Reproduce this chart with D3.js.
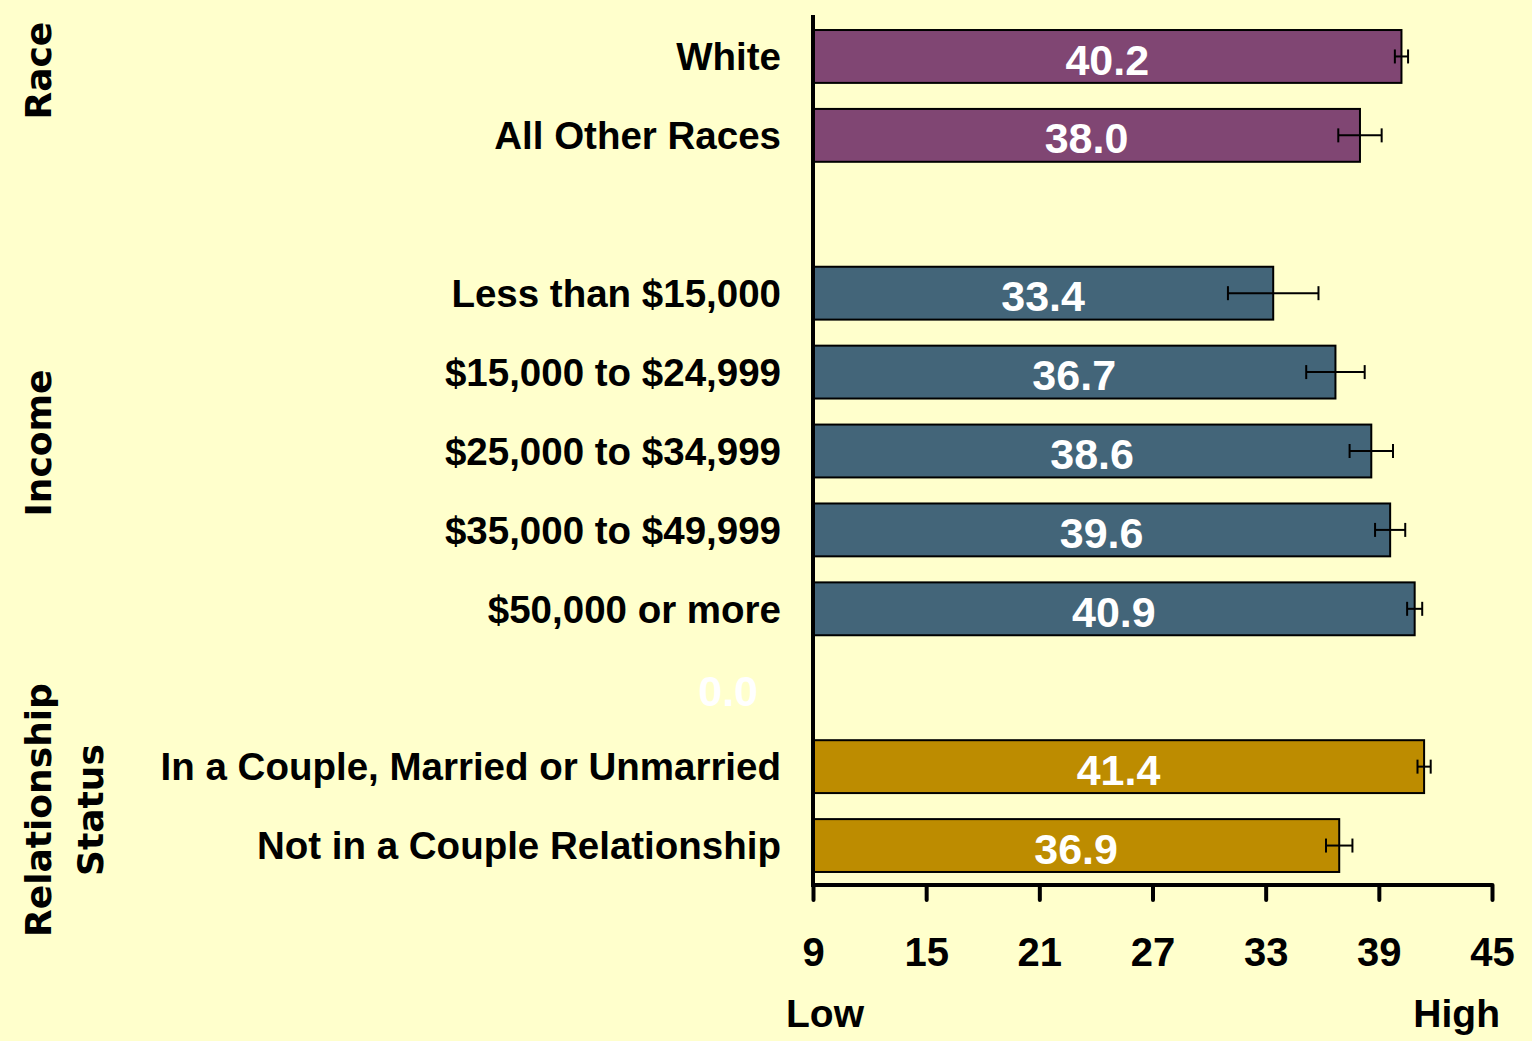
<!DOCTYPE html>
<html>
<head>
<meta charset="utf-8">
<script src="https://cdn.jsdelivr.net/npm/d3@7"></script>
<style>
  body { margin: 0; background: #FFFFCC; }
  svg { display: block; }
  text { font-family: "Liberation Sans", Arial, sans-serif; font-weight: bold; }
</style>
</head>
<body>
<div id="chart"></div>
<script>
// categories, top to bottom ("" = empty slot)
var categories = ["White", "All Other Races", "", "Less than $15,000", "$15,000 to $24,999",
                  "$25,000 to $34,999", "$35,000 to $49,999", "$50,000 or more", " ",
                  "In a Couple, Married or Unmarried", "Not in a Couple Relationship"];
var values = [40.2, 38.0, null, 33.4, 36.7, 38.6, 39.6, 40.9, 0.0, 41.4, 36.9];
var errors = [0.35, 1.15, null, 2.4, 1.55, 1.15, 0.8, 0.4, null, 0.35, 0.7];
var groups = ["race", "race", null, "income", "income", "income", "income", "income", null, "rel", "rel"];
var groupColors = {race: "#804673", income: "#436579", rel: "#BD8C00"};
var tickValues = [9, 15, 21, 27, 33, 39, 45];
// group titles, pos = position in category slots
var groupLabels = [
    {lines: ["Race"], pos: 0.18},
    {lines: ["Income"], pos: 4.9},
    {lines: ["Relationship", "Status"], pos: 9.55}
];

var width = 1532, height = 1041;
var margin = {top: 17, left: 813, right: 40, bottom: 156};

var svg = d3.select("#chart").append("svg")
    .attr("width", width)
    .attr("height", height);

svg.append("rect").attr("width", width).attr("height", height).attr("fill", "#FFFFCC");

var x = d3.scaleLinear().domain([9, 45]).range([margin.left, width - margin.right]);
var y = d3.scaleBand()
    .domain(d3.range(categories.length))
    .range([margin.top, height - margin.bottom])
    .paddingInner(0.33)
    .paddingOuter(0.165);

var rows = categories.map(function(c, i){
    return {label: c, value: values[i], err: errors[i], group: groups[i], i: i};
});

// bars
svg.append("g").selectAll("rect")
    .data(rows.filter(function(d){ return d.value != null && d.value > 9; }))
    .enter().append("rect")
    .attr("x", x(9))
    .attr("y", function(d){ return y(d.i); })
    .attr("width", function(d){ return x(d.value) - x(9); })
    .attr("height", y.bandwidth())
    .attr("fill", function(d){ return groupColors[d.group]; })
    .attr("stroke", "#000")
    .attr("stroke-width", 2);

// value labels
svg.append("g").selectAll("text")
    .data(rows.filter(function(d){ return d.value != null; }))
    .enter().append("text")
    .attr("x", function(d){ return (x(9) + x(d.value)) / 2; })
    .attr("y", function(d){ return y(d.i) + y.bandwidth() / 2; })
    .attr("dy", "0.42em")
    .attr("text-anchor", "middle")
    .attr("fill", "white")
    .style("font-size", "43px")
    .text(function(d){ return d.value.toFixed(1); });

// error bars
var eb = svg.append("g").selectAll("g")
    .data(rows.filter(function(d){ return d.err != null; }))
    .enter().append("g")
    .attr("stroke", "#000")
    .attr("stroke-width", 2);
eb.append("line")
    .attr("x1", function(d){ return x(d.value - d.err); })
    .attr("x2", function(d){ return x(d.value + d.err); })
    .attr("y1", function(d){ return y(d.i) + y.bandwidth() / 2; })
    .attr("y2", function(d){ return y(d.i) + y.bandwidth() / 2; });
[-1, 1].forEach(function(s){
    eb.append("line")
        .attr("x1", function(d){ return x(d.value + s * d.err); })
        .attr("x2", function(d){ return x(d.value + s * d.err); })
        .attr("y1", function(d){ return y(d.i) + y.bandwidth() / 2 - 7; })
        .attr("y2", function(d){ return y(d.i) + y.bandwidth() / 2 + 7; });
});

// category labels
svg.append("g").selectAll("text")
    .data(rows.filter(function(d){ return d.label.trim() !== ""; }))
    .enter().append("text")
    .attr("x", x(9) - 32)
    .attr("y", function(d){ return y(d.i) + y.bandwidth() / 2; })
    .attr("dy", "0.36em")
    .attr("text-anchor", "end")
    .attr("fill", "#000")
    .style("font-size", "38.5px")
    .text(function(d){ return d.label; });

// group labels (rotated)
var gl = svg.append("g").selectAll("text")
    .data(groupLabels)
    .enter().append("text")
    .attr("transform", function(d){
        return "translate(38," + (y(0) + y.bandwidth() / 2 + d.pos * y.step()) + ") rotate(-90)";
    })
    .attr("text-anchor", "middle")
    .style("font-family", "'DejaVu Sans', Verdana, sans-serif")
    .style("font-size", "36px")
    .attr("fill", "#000");
gl.selectAll("tspan")
    .data(function(d){ return d.lines; })
    .enter().append("tspan")
    .attr("x", 0)
    .attr("y", function(d, i){ return 13 + i * 52; })
    .text(function(d){ return d; });

// y axis line
svg.append("line")
    .attr("x1", x(9)).attr("x2", x(9))
    .attr("y1", margin.top - 2).attr("y2", height - margin.bottom + 2)
    .attr("stroke", "#000").attr("stroke-width", 4);

// x axis
var xAxis = svg.append("g")
    .attr("transform", "translate(0," + (height - margin.bottom) + ")")
    .call(d3.axisBottom(x).tickValues(tickValues).tickSize(15).tickPadding(38).tickFormat(d3.format("d")));
xAxis.select(".domain").attr("stroke", "#000").attr("stroke-width", 4)
    .attr("d", "M" + x(9) + ",0H" + x(45));
xAxis.selectAll(".tick line").attr("stroke", "#000").attr("stroke-width", 4).attr("stroke-linecap", "round");
xAxis.selectAll(".tick text")
    .attr("fill", "#000")
    .style("font-family", "'Liberation Sans', Arial, sans-serif")
    .style("font-weight", "bold")
    .style("font-size", "40px");

svg.append("text")
    .attr("x", x(9) - 27)
    .attr("y", height - margin.bottom + 142)
    .attr("text-anchor", "start")
    .style("font-size", "39px")
    .text("Low");
svg.append("text")
    .attr("x", x(45) + 8)
    .attr("y", height - margin.bottom + 142)
    .attr("text-anchor", "end")
    .style("font-size", "39px")
    .text("High");
</script>
</body>
</html>
